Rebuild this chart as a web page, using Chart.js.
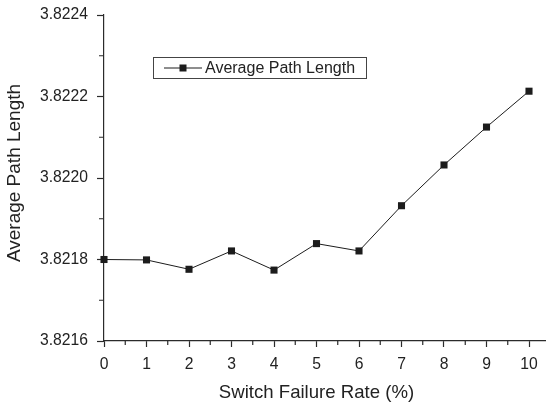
<!DOCTYPE html>
<html lang="en">
<head>
  <meta charset="UTF-8">
  <title>Average Path Length</title>
  <script src="https://cdn.jsdelivr.net/npm/chart.js"></script>
  <style>
    html, body { margin: 0; padding: 0; background: #fff; overflow: hidden; }
    #chartContainer { width: 546px; height: 405px; }
  </style>
</head>
<body>
<div id="chartContainer">
  <canvas id="pathChart" width="546" height="405"></canvas>
</div>

<script>
// data
const failureRates = [0, 1, 2, 3, 4, 5, 6, 7, 8, 9, 10];
const avgPathLength = [3.82180, 3.821799, 3.821776, 3.821821, 3.821774, 3.821839, 3.821821, 3.821932, 3.822032, 3.822125, 3.822213];
const xTicks = [0, 1, 2, 3, 4, 5, 6, 7, 8, 9, 10];
const yTicks = [3.8216, 3.8218, 3.8220, 3.8222, 3.8224];
const seriesName = 'Average Path Length';
const xTitle = 'Switch Failure Rate (%)';
const yTitle = 'Average Path Length';

const FONT = '"Liberation Sans", Arial, sans-serif';
const AXIS = '#2b2b2b';
const INK = '#1c1c1c';

// minor ticks, axis titles and the boxed legend
const decorations = {
  id: 'decorations',
  afterDraw(chart) {
    const ctx = chart.ctx;
    const xs = chart.scales.x, ys = chart.scales.y;
    const left = chart.chartArea.left, bottom = chart.chartArea.bottom;
    ctx.save();
    ctx.strokeStyle = AXIS;
    ctx.lineWidth = 1.2;
    ctx.beginPath();
    for (let i = 0; i < xTicks.length - 1; i++) {
      const px = xs.getPixelForValue((xTicks[i] + xTicks[i + 1]) / 2);
      ctx.moveTo(px, bottom);
      ctx.lineTo(px, bottom + 4);
    }
    for (let i = 0; i < yTicks.length - 1; i++) {
      const py = ys.getPixelForValue((yTicks[i] + yTicks[i + 1]) / 2);
      ctx.moveTo(left, py);
      ctx.lineTo(left - 5, py);
    }
    ctx.stroke();

    // titles
    ctx.fillStyle = '#222';
    ctx.textAlign = 'center';
    ctx.textBaseline = 'middle';
    ctx.font = '18.6px ' + FONT;
    const xc = (xs.getPixelForValue(xTicks[0]) + xs.getPixelForValue(xTicks[xTicks.length - 1])) / 2;
    ctx.fillText(xTitle, xc, 393);
    ctx.save();
    ctx.font = '19px ' + FONT;
    ctx.textBaseline = 'alphabetic';
    ctx.translate(19.5, 173);
    ctx.rotate(-Math.PI / 2);
    ctx.fillText(yTitle, 0, 0);
    ctx.restore();

    // legend box
    ctx.strokeStyle = '#444';
    ctx.lineWidth = 1;
    ctx.strokeRect(153.5, 57.5, 213, 21);
    ctx.strokeStyle = INK;
    ctx.beginPath();
    ctx.moveTo(164, 68);
    ctx.lineTo(202, 68);
    ctx.stroke();
    ctx.fillStyle = INK;
    ctx.fillRect(179.5, 64.5, 7, 7);
    ctx.fillStyle = '#222';
    ctx.textAlign = 'left';
    ctx.font = '16px ' + FONT;
    ctx.fillText(seriesName, 205, 68.5);
    ctx.restore();
  }
};

const ctx = document.getElementById('pathChart').getContext('2d');
new Chart(ctx, {
  type: 'line',
  data: {
    datasets: [{
      label: seriesName,
      data: failureRates.map((x, i) => ({ x: x, y: avgPathLength[i] })),
      borderColor: INK,
      borderWidth: 1,
      backgroundColor: INK,
      pointStyle: 'rect',
      pointRadius: 5,
      pointHoverRadius: 5,
      pointBorderWidth: 0,
      tension: 0,
      clip: false
    }]
  },
  options: {
    responsive: false,
    animation: false,
    devicePixelRatio: 1,
    layout: { autoPadding: false, padding: { top: 15, right: 0, left: 0, bottom: 0 } },
    plugins: { legend: { display: false }, tooltip: { enabled: false } },
    scales: {
      x: {
        type: 'linear',
        min: 0,
        max: 10.4,
        afterBuildTicks: s => { s.ticks = xTicks.map(v => ({ value: v })); },
        afterFit: s => { s.height = 64; s.paddingLeft = 0; s.paddingRight = 0; },
        grid: { drawOnChartArea: false, drawTicks: true, tickLength: 6, color: AXIS, tickWidth: 1.2 },
        border: { display: true, color: AXIS, width: 1.2 },
        ticks: { color: '#222', font: { family: FONT, size: 15.7 }, padding: 8, maxRotation: 0, autoSkip: false }
      },
      y: {
        min: 3.8216,
        max: 3.8224,
        afterBuildTicks: s => { s.ticks = yTicks.map(v => ({ value: v })); },
        afterFit: s => { s.width = 104; s.paddingTop = 0; s.paddingBottom = 0; },
        grid: { drawOnChartArea: false, drawTicks: true, tickLength: 7, color: AXIS, tickWidth: 1.2 },
        border: { display: true, color: AXIS, width: 1.2 },
        ticks: { color: '#222', font: { family: FONT, size: 15.7 }, padding: 9, callback: v => Number(v).toFixed(4) }
      }
    }
  },
  plugins: [decorations]
});
</script>
</body>
</html>
